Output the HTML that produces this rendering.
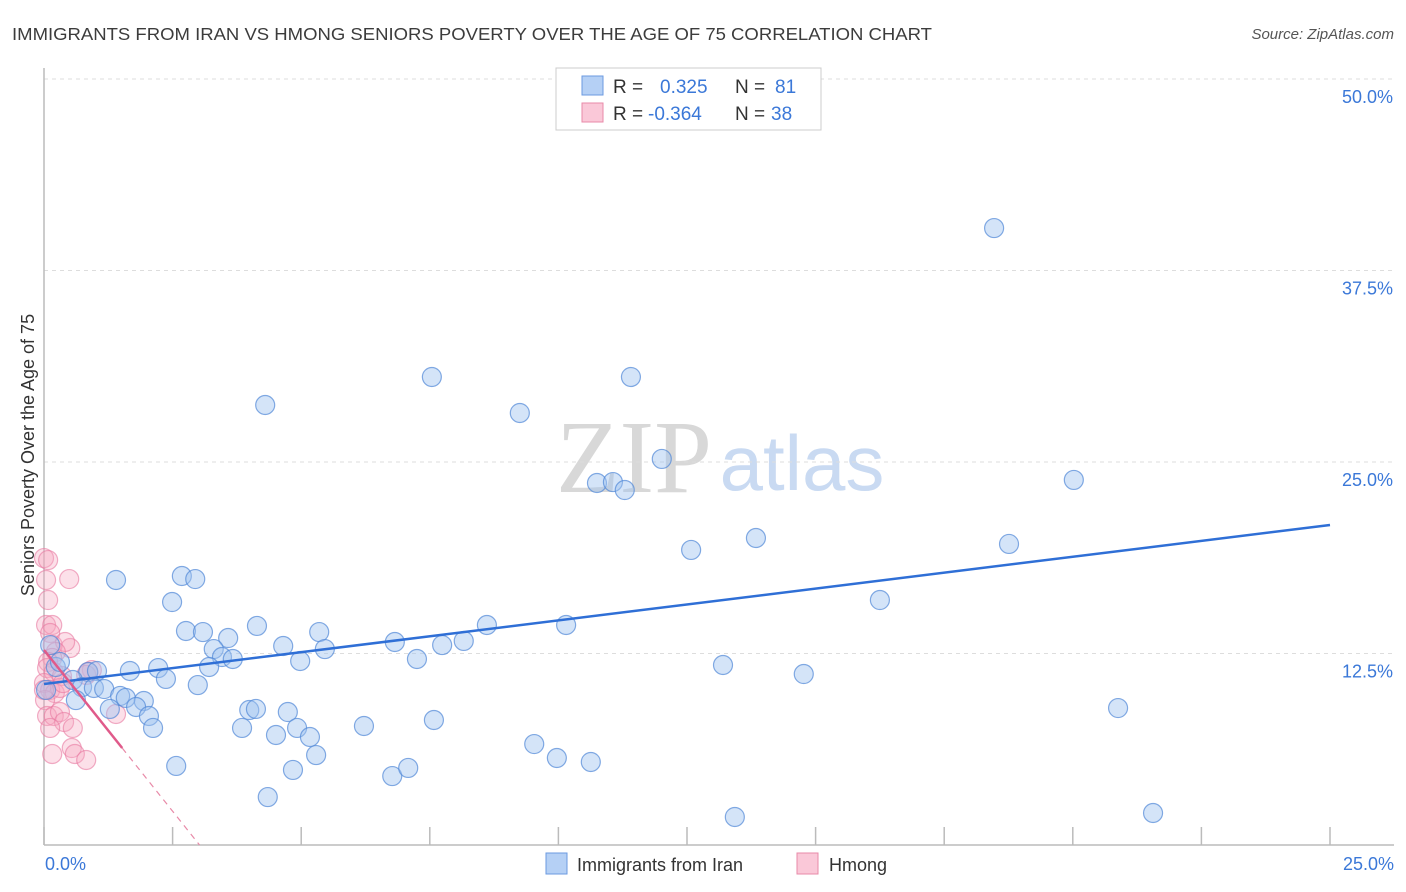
<!DOCTYPE html>
<html><head><meta charset="utf-8"><style>
body{margin:0;background:#fff;font-family:"Liberation Sans",sans-serif;}
svg{display:block}
</style></head><body>
<svg id="chart" width="1406" height="892">
<text x="12" y="40" font-size="17.5" fill="#3c3c3c" textLength="920" lengthAdjust="spacingAndGlyphs">IMMIGRANTS FROM IRAN VS HMONG SENIORS POVERTY OVER THE AGE OF 75 CORRELATION CHART</text>
<text x="1394" y="39" font-size="15" fill="#555" font-style="italic" text-anchor="end">Source: ZipAtlas.com</text>
<text x="634" y="492" font-size="104" fill="#d8d8d8" font-family="Liberation Serif,serif" text-anchor="middle">ZIP</text>
<text x="802" y="490" font-size="78" fill="#c9daf2" text-anchor="middle">atlas</text>
<g id="grid"></g><g id="axes"></g><g id="pts"></g><g id="trend"></g>
<g>
<rect x="556" y="68" width="265" height="62" fill="#fff" stroke="#ccc"/>
<rect x="582" y="76" width="21" height="19" fill="#b5d0f5" stroke="#6b9ae0"/>
<text x="613" y="93" font-size="19" fill="#333">R = </text><text x="660" y="93" font-size="19" fill="#3b78d8">0.325</text>
<text x="735" y="93" font-size="19" fill="#333">N = </text><text x="775" y="93" font-size="19" fill="#3b78d8">81</text>
<rect x="582" y="103" width="21" height="19" fill="#fac8d8" stroke="#e88aa8"/>
<text x="613" y="120" font-size="19" fill="#333">R = </text><text x="648" y="120" font-size="19" fill="#3b78d8">-0.364</text>
<text x="735" y="120" font-size="19" fill="#333">N = </text><text x="771" y="120" font-size="19" fill="#3b78d8">38</text>
</g>
<g>
<rect x="546" y="853" width="21" height="21" fill="#b5d0f5" stroke="#6b9ae0"/>
<text x="577" y="871" font-size="18" fill="#333">Immigrants from Iran</text>
<rect x="797" y="853" width="21" height="21" fill="#fac8d8" stroke="#e88aa8"/>
<text x="829" y="871" font-size="18" fill="#333">Hmong</text>
</g>
<text x="34" y="455" font-size="18" fill="#333" text-anchor="middle" transform="rotate(-90 34 455)">Seniors Poverty Over the Age of 75</text>
</svg>
<script>
const yTicks=[12.5,25,37.5,50];
const yTickLabels=["12.5%","25.0%","37.5%","50.0%"];
const xTicks=[0,2.5,5,7.5,10,12.5,15,17.5,20,22.5,25];
const xEndLabels=["0.0%","25.0%"];
const iranX=[18.47,4.30,7.54,11.41,9.25,12.01,10.75,11.06,11.29,20.02,12.58,13.84,18.76,1.40,2.68,2.94,2.49,16.25,8.61,10.15,2.76,3.09,4.14,5.35,3.58,3.30,4.65,6.82,7.74,8.16,5.46,3.46,3.67,4.98,7.25,1.67,2.22,3.21,13.20,14.77,2.37,2.99,0.86,1.03,0.56,0.74,0.97,1.17,1.48,1.59,1.94,0.62,1.28,1.79,2.04,2.12,3.99,4.12,4.74,3.85,4.92,4.51,5.17,6.22,7.58,20.88,5.29,2.57,4.84,6.77,7.08,9.53,9.97,10.63,4.35,13.43,21.56,0.23,0.31,0.12,0.04];
const iranY=[40.27,28.72,30.55,30.55,28.20,25.20,23.63,23.69,23.17,23.83,19.26,20.04,19.65,17.30,17.56,17.36,15.86,15.99,14.36,14.36,13.97,13.90,14.30,13.90,13.51,12.79,12.99,13.25,13.05,13.32,12.79,12.27,12.14,12.01,12.14,11.36,11.55,11.62,11.75,11.16,10.84,10.44,11.29,11.36,10.77,10.31,10.25,10.18,9.73,9.60,9.40,9.46,8.88,9.01,8.42,7.64,8.81,8.88,8.68,7.64,7.64,7.18,7.05,7.77,8.16,8.94,5.87,5.16,4.90,4.50,5.03,6.59,5.68,5.42,3.13,1.83,2.09,11.62,11.95,13.05,10.12];
const hmongX=[0.00,0.08,0.04,0.49,0.08,0.04,0.16,0.12,0.17,0.51,0.41,0.23,0.16,0.08,0.06,0.19,0.35,0.00,0.12,0.21,0.02,0.31,0.37,0.93,0.82,0.06,0.19,0.31,0.39,0.12,0.56,1.40,0.54,0.60,0.82,0.16,0.00,0.86];
const hmongY=[18.73,18.60,17.30,17.36,15.99,14.36,14.36,13.84,13.05,12.86,13.25,12.60,12.21,11.95,11.55,11.29,11.03,10.57,10.12,9.92,9.46,10.25,10.57,11.42,11.10,8.42,8.42,8.68,8.03,7.64,7.64,8.55,6.33,5.94,5.55,5.94,10.12,11.29];
const iranTrend=[10.51,20.89];
const hmongTrend=[12.73,-4.21];
const hmongSolidEnd=1.52;
const NS="http://www.w3.org/2000/svg";
const X=v=>44+v*51.44, Y=v=>845-v*15.32;
function mk(tag,attrs,parent){const e=document.createElementNS(NS,tag);for(const k in attrs)e.setAttribute(k,attrs[k]);parent.appendChild(e);return e;}
const grid=document.getElementById('grid'),axes=document.getElementById('axes'),pts=document.getElementById('pts'),trend=document.getElementById('trend');
yTicks.forEach((t,i)=>{
 const l=mk('line',{x1:44,x2:1394,y1:Y(t),y2:Y(t),stroke:'#ddd','stroke-dasharray':'4,4'},grid);
 
 
 const tx=mk('text',{x:1393,y:Y(t)+24,'font-size':18,fill:'#3b78d8','text-anchor':'end'},grid);
 tx.textContent=yTickLabels[i];
 
 
});
const ax=mk('line',{x1:44,x2:44,y1:68,y2:845,stroke:'#bbb','stroke-width':1.5},axes);


const bx=mk('line',{x1:44,x2:1394,y1:845,y2:845,stroke:'#bbb','stroke-width':1.5},axes);


xTicks.forEach(t=>{
 const l=mk('line',{x1:X(t),x2:X(t),y1:827,y2:845,stroke:'#bbb','stroke-width':1.5},axes);
 
 
});
[[0,'start',45],[25,'end',1394]].forEach((d,i)=>{
 const tx=mk('text',{x:d[2],y:870,'font-size':18,fill:'#3b78d8','text-anchor':d[1]},axes);
 tx.textContent=xEndLabels[i];
 
 
});
hmongX.forEach((x,i)=>{
 const c=mk('circle',{cx:X(x),cy:Y(hmongY[i]),r:9.5,fill:'rgba(245,165,192,0.35)',stroke:'rgba(232,120,160,0.6)','stroke-width':1.2},pts);
 
 
});
iranX.forEach((x,i)=>{
 const c=mk('circle',{cx:X(x),cy:Y(iranY[i]),r:9.5,fill:'rgba(160,195,240,0.45)',stroke:'rgba(80,135,215,0.7)','stroke-width':1.2},pts);
 
 
});
const bt=mk('line',{x1:X(0),y1:Y(iranTrend[0]),x2:X(25),y2:Y(iranTrend[1]),stroke:'#2f6fd6','stroke-width':2.5},trend);


const hy=x=>hmongTrend[0]+hmongTrend[1]*x;
const zeroX=-hmongTrend[0]/hmongTrend[1];
const pd=mk('line',{x1:X(hmongSolidEnd),y1:Y(hy(hmongSolidEnd)),x2:X(zeroX),y2:Y(0),stroke:'#e88aa8','stroke-width':1.2,'stroke-dasharray':'6,5'},trend);


const ps=mk('line',{x1:X(0),y1:Y(hy(0)),x2:X(hmongSolidEnd),y2:Y(hy(hmongSolidEnd)),stroke:'#e05a8a','stroke-width':2.5},trend);


</script>
</body></html>
